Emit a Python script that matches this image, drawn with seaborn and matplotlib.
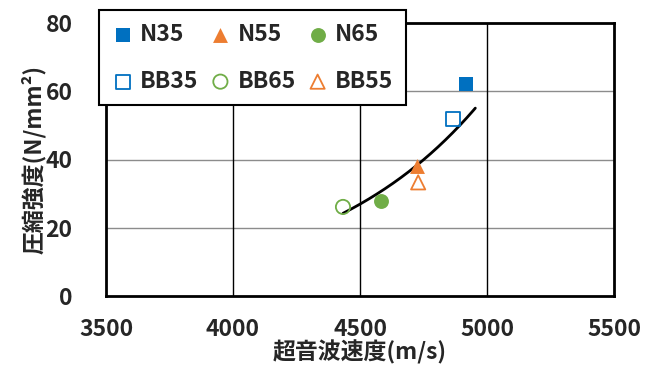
import numpy as np
import matplotlib
matplotlib.use("Agg")
import matplotlib.pyplot as plt
import seaborn as sns

# Ultrasonic pulse velocity (m/s) and compressive strength (N/mm2) per mix
n35_x, n35_y = [4918], [62.0]
n55_x, n55_y = [4724], [38.2]
n65_x, n65_y = [4584], [27.8]
bb35_x, bb35_y = [4865], [51.8]
bb65_x, bb65_y = [4433], [26.1]
bb55_x, bb55_y = [4729], [33.3]

# Exponential trend line y = a * exp(b * x) and the span it is drawn over
trend_a = 0.02239
trend_b = 0.001576
trend_span = [4433, 4954]

x_ticks = [3500, 4000, 4500, 5000, 5500]
y_ticks = [0, 20, 40, 60, 80]

BLUE = "#0070C0"
ORANGE = "#ED7D31"
GREEN = "#70AD47"
FS = 16.5

sns.set_style("white")
plt.rcParams["font.family"] = ["Noto Sans CJK JP", "DejaVu Sans"]
plt.rcParams["font.weight"] = "bold"

fig, ax = plt.subplots(figsize=(6.56, 3.65), dpi=100)
fig.subplots_adjust(left=106 / 656, right=614 / 656, top=1 - 23 / 365, bottom=1 - 296 / 365)

series = [
    ("N35", n35_x, n35_y, "s", BLUE, True),
    ("BB35", bb35_x, bb35_y, "s", BLUE, False),
    ("N55", n55_x, n55_y, "^", ORANGE, True),
    ("BB65", bb65_x, bb65_y, "o", GREEN, False),
    ("N65", n65_x, n65_y, "o", GREEN, True),
    ("BB55", bb55_x, bb55_y, "^", ORANGE, False),
]

for name, xs, ys, mk, col, filled in series:
    if filled:
        sns.scatterplot(x=xs, y=ys, marker=mk, s=115, color=col,
                        edgecolor=col, linewidth=0, ax=ax, label=name, zorder=4)
    else:
        sns.scatterplot(x=xs, y=ys, marker=mk, s=105, facecolor="none",
                        edgecolor=col, linewidth=1.3, ax=ax, label=name, zorder=4)

tx = np.linspace(trend_span[0], trend_span[1], 200)
ty = trend_a * np.exp(trend_b * tx)
sns.lineplot(x=tx, y=ty, color="black", linewidth=2.0, ax=ax, zorder=3)

ax.set_xlim(3500, 5500)
ax.set_ylim(0, 80)
ax.set_xticks(x_ticks)
ax.set_yticks(y_ticks)
ax.set_xticklabels([str(v) for v in x_ticks], fontsize=FS, fontweight="bold")
ax.set_yticklabels([str(v) for v in y_ticks], fontsize=FS, fontweight="bold")
ax.tick_params(axis="x", length=0, pad=16)
ax.tick_params(axis="y", length=0, pad=24)

# horizontal grid in grey, vertical grid in black
for yv in y_ticks[1:-1]:
    ax.axhline(yv, color="#8c8c8c", linewidth=1.0, zorder=1)
for xv in x_ticks[1:-1]:
    ax.axvline(xv, color="black", linewidth=1.0, zorder=1)

for sp in ax.spines.values():
    sp.set_color("black")
    sp.set_linewidth(2.0)
    sp.set_visible(True)

ax.set_xlabel("超音波速度(m/s)", fontsize=FS, fontweight="bold", labelpad=-1)
ax.set_ylabel("圧縮強度(N/mm²)", fontsize=FS, fontweight="bold", labelpad=0)

leg = ax.legend(ncol=3, loc="upper left", bbox_to_anchor=(99 / 656, 1 - 10 / 365),
                bbox_transform=fig.transFigure, frameon=True, fancybox=False,
                framealpha=1, edgecolor="black",
                prop={"weight": "bold", "size": FS},
                handletextpad=0.25, columnspacing=0.45, labelspacing=1.05,
                borderpad=0.55, handlelength=1.0, borderaxespad=0)
leg.get_frame().set_linewidth(1.5)
leg.set_zorder(10)

fig.savefig("out.png", dpi=100)
